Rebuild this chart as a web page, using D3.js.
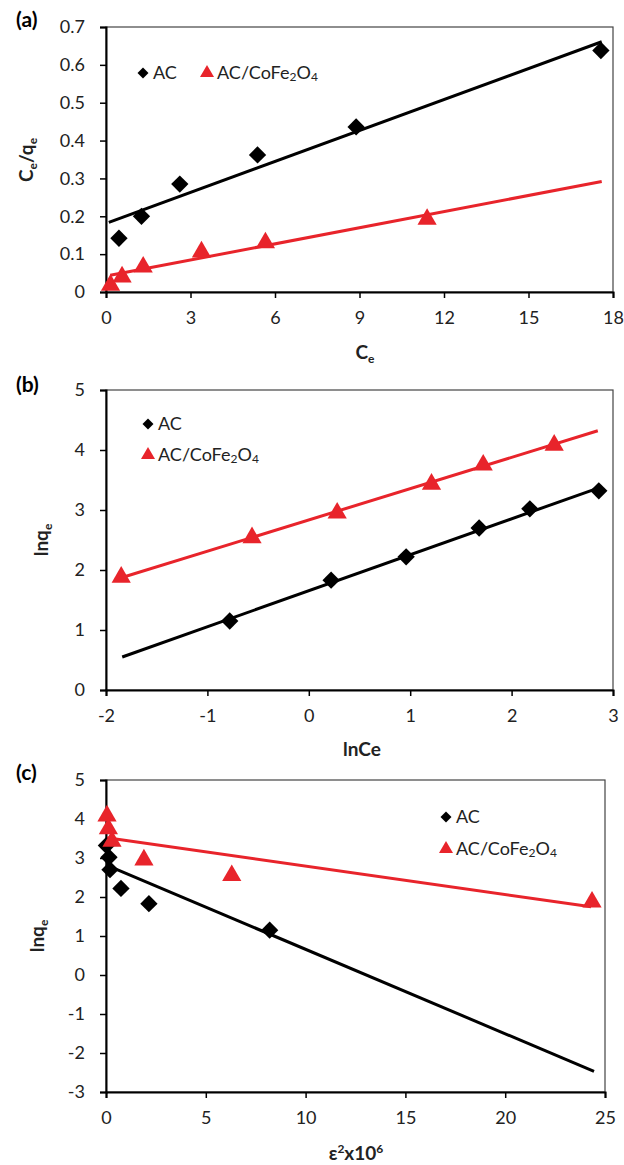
<!DOCTYPE html>
<html>
<head>
<meta charset="utf-8">
<script src="https://cdn.jsdelivr.net/npm/d3@7"></script>
<style>
  body { margin: 0; background: #fff; }
  svg { font-family: Lato, "Open Sans", sans-serif; }
</style>
</head>
<body>
<div id="chart"></div>
<script>
// Panel (a) - Langmuir: Ce vs Ce/qe
const aAC = [[0.46, 0.142], [1.26, 0.200], [2.62, 0.285], [5.38, 0.362], [8.88, 0.436], [17.57, 0.638]];
const aCo = [[0.16, 0.018], [0.57, 0.040], [1.32, 0.066], [3.39, 0.106], [5.66, 0.130], [11.4, 0.192]];
const aFitAC = [[0.1, 0.184], [17.6, 0.661]];
const aFitCo = [[0.15, 0.044], [17.6, 0.292]];
const aXTicks = [0, 3, 6, 9, 12, 15, 18];
const aYTicks = [0, 0.1, 0.2, 0.3, 0.4, 0.5, 0.6, 0.7];

// Panel (b) - Freundlich: lnCe vs lnqe
const bAC = [[-0.78, 1.15], [0.22, 1.83], [0.96, 2.22], [1.68, 2.70], [2.18, 3.02], [2.86, 3.32]];
const bCo = [[-1.85, 1.88], [-0.56, 2.54], [0.28, 2.95], [1.21, 3.43], [1.72, 3.75], [2.42, 4.08]];
const bFitAC = [[-1.84, 0.55], [2.86, 3.37]];
const bFitCo = [[-1.85, 1.87], [2.85, 4.32]];
const bXTicks = [-2, -1, 0, 1, 2, 3];
const bYTicks = [0, 1, 2, 3, 4, 5];

// Panel (c) - D-R: eps^2 x10^6 vs lnqe
const cAC = [[0.02, 3.32], [0.15, 3.02], [0.2, 2.70], [0.75, 2.22], [2.15, 1.83], [8.2, 1.15]];
const cCo = [[0.05, 4.08], [0.12, 3.75], [0.3, 3.43], [1.9, 2.95], [6.3, 2.55], [24.35, 1.87]];
const cFitAC = [[0.2, 2.78], [24.45, -2.47]];
const cFitCo = [[0.05, 3.52], [24.3, 1.75]];
const cXTicks = [0, 5, 10, 15, 20, 25];
const cYTicks = [-3, -2, -1, 0, 1, 2, 3, 4, 5];

const RED = "#e8242b";
const plain = d => String(d);

const svg = d3.select("#chart").append("svg")
  .attr("width", 624)
  .attr("height", 1165);

// draw one panel
function panel(cfg) {
  const x = d3.scaleLinear().domain(cfg.xDomain).range([cfg.left, cfg.right]);
  const y = d3.scaleLinear().domain(cfg.yDomain).range([cfg.bottom, cfg.top]);

  // frame (top and right)
  svg.append("rect")
     .attr("x", cfg.left).attr("y", cfg.top)
     .attr("width", cfg.right - cfg.left).attr("height", cfg.bottom - cfg.top)
     .attr("fill", "none").attr("stroke", "#444").attr("stroke-width", 1.2);

  const xAxis = svg.append("g")
     .attr("transform", `translate(0,${cfg.bottom})`)
     .call(d3.axisBottom(x).tickValues(cfg.xTicks).tickSize(6).tickPadding(13).tickFormat(plain));
  const yAxis = svg.append("g")
     .attr("transform", `translate(${cfg.left},0)`)
     .call(d3.axisLeft(y).tickValues(cfg.yTicks).tickSize(6).tickPadding(15).tickFormat(cfg.yFormat));

  [xAxis, yAxis].forEach(g => {
    g.select(".domain").attr("stroke", "#000").attr("stroke-width", 2);
    g.selectAll(".tick line").attr("stroke", "#000").attr("stroke-width", 1.5);
    g.selectAll(".tick text").attr("font-size", 18).attr("fill", "#222")
     .attr("font-family", "Lato, sans-serif");
  });

  const line = d3.line().x(d => x(d[0])).y(d => y(d[1]));

  svg.append("path").datum(cfg.fitCo).attr("d", line)
     .attr("fill", "none").attr("stroke", RED).attr("stroke-width", 3);
  svg.append("path").datum(cfg.fitAC).attr("d", line)
     .attr("fill", "none").attr("stroke", "#000").attr("stroke-width", 3);

  const diamond = d3.symbol().type(d3.symbolSquare).size(150);
  const tri = d3.symbol().type(d3.symbolTriangle).size(160);

  svg.append("g").selectAll("path")
     .data(cfg.ac).join("path")
     .attr("d", diamond)
     .attr("transform", d => `translate(${x(d[0])},${y(d[1])}) rotate(45)`)
     .attr("fill", "#000");

  svg.append("g").selectAll("path")
     .data(cfg.co).join("path")
     .attr("d", tri)
     .attr("transform", d => `translate(${x(d[0])},${y(d[1])})`)
     .attr("fill", RED);

  // panel label
  svg.append("text")
     .attr("x", 16).attr("y", cfg.labelY)
     .attr("font-size", 21).attr("font-weight", "bold")
     .text(cfg.label);

  // legend
  const lg = svg.append("g");
  cfg.legend.forEach(item => {
    const sym = item.type === "ac"
      ? d3.symbol().type(d3.symbolSquare).size(60)
      : d3.symbol().type(d3.symbolTriangle).size(85);
    lg.append("path")
      .attr("d", sym)
      .attr("transform", `translate(${item.x},${item.y})` + (item.type === "ac" ? " rotate(45)" : ""))
      .attr("fill", item.type === "ac" ? "#000" : RED);
    const t = lg.append("text")
      .attr("x", item.x + 10).attr("y", item.y + 6)
      .attr("font-size", 18).attr("fill", "#222");
    if (item.type === "ac") {
      t.text("AC");
    } else {
      t.append("tspan").text("AC/CoFe");
      t.append("tspan").attr("font-size", 12).attr("dy", 2).text("2");
      t.append("tspan").attr("dy", -2).text("O");
      t.append("tspan").attr("font-size", 12).attr("dy", 2).text("4");
    }
  });

  return {x, y};
}

// (a)
panel({
  left: 106, right: 613, top: 27, bottom: 292,
  xDomain: [0, 18], yDomain: [0, 0.7],
  xTicks: aXTicks, yTicks: aYTicks, yFormat: d => d === 0 ? "0" : d3.format(".1f")(d),
  ac: aAC, co: aCo, fitAC: aFitAC, fitCo: aFitCo,
  label: "(a)", labelY: 27,
  legend: [{type: "ac", x: 143, y: 73}, {type: "co", x: 207, y: 73}]
});
// (b)
panel({
  left: 106, right: 613, top: 390, bottom: 690,
  xDomain: [-2, 3], yDomain: [0, 5],
  xTicks: bXTicks, yTicks: bYTicks, yFormat: plain,
  ac: bAC, co: bCo, fitAC: bFitAC, fitCo: bFitCo,
  label: "(b)", labelY: 392,
  legend: [{type: "ac", x: 148, y: 424}, {type: "co", x: 148, y: 455}]
});
// (c)
panel({
  left: 106, right: 605, top: 780, bottom: 1092,
  xDomain: [0, 25], yDomain: [-3, 5],
  xTicks: cXTicks, yTicks: cYTicks, yFormat: plain,
  ac: cAC, co: cCo, fitAC: cFitAC, fitCo: cFitCo,
  label: "(c)", labelY: 780,
  legend: [{type: "ac", x: 446, y: 817}, {type: "co", x: 446, y: 849}]
});

// axis titles
function subTitle(x, y, main, sub, rotate) {
  const t = svg.append("text")
    .attr("text-anchor", "middle")
    .attr("font-size", 19).attr("font-weight", "bold").attr("fill", "#222")
    .attr("transform", rotate ? `translate(${x},${y}) rotate(-90)` : `translate(${x},${y})`);
  main.forEach((m, i) => {
    t.append("tspan").attr("dy", i === 0 ? 0 : -4).attr("font-size", 19).text(m);
    if (sub[i]) t.append("tspan").attr("dy", 4).attr("font-size", 12).text(sub[i]);
  });
  return t;
}

subTitle(365, 359, ["C"], ["e"], false);
subTitle(33, 160, ["C", "/q"], ["e", "e"], true);
subTitle(48, 540, ["lnq"], ["e"], true);
subTitle(44, 936, ["lnq"], ["e"], true);

svg.append("text")
   .attr("x", 362).attr("y", 756)
   .attr("text-anchor", "middle")
   .attr("font-size", 19).attr("font-weight", "bold").attr("fill", "#222")
   .text("lnCe");

const eps = svg.append("text")
   .attr("x", 356).attr("y", 1160)
   .attr("text-anchor", "middle")
   .attr("font-size", 19).attr("font-weight", "bold").attr("fill", "#222");
eps.append("tspan").text("ε");
eps.append("tspan").attr("font-size", 12).attr("dy", -7).text("2");
eps.append("tspan").attr("dy", 7).text("x10");
eps.append("tspan").attr("font-size", 12).attr("dy", -7).text("6");
</script>
</body>
</html>
